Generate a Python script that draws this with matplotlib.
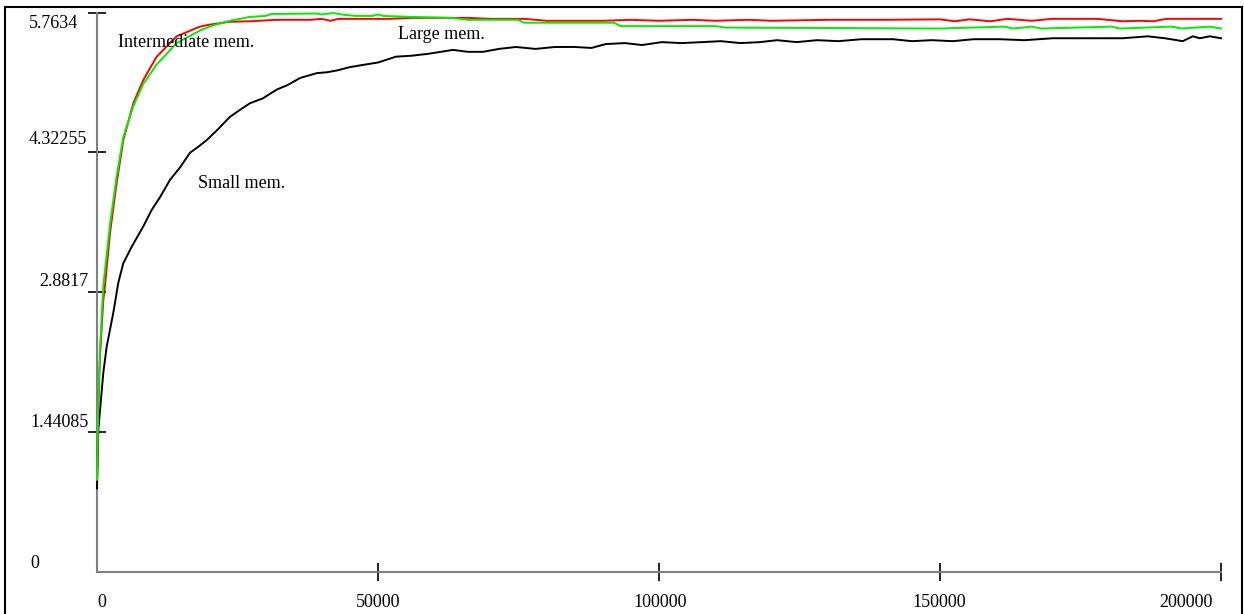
import matplotlib
matplotlib.use("Agg")
import matplotlib.pyplot as plt
from matplotlib.lines import Line2D

# values
small_x = [0, 230, 1120, 1720, 2900, 3790, 4680, 6170, 8240, 9730, 11200, 12990, 14800, 16550,
           18000, 19520, 21500, 23660, 25400, 27220, 29500, 31970, 34000, 36120, 39090, 41000,
           42870, 44800, 46790, 50000, 53190, 56000, 59000, 63330, 66000, 68700, 71500, 74570,
           78000, 81500, 85040, 88000, 90500, 93930, 97000, 100500, 104000, 107630, 111000,
           114500, 117950, 121000, 124500, 128090, 132000, 136000, 141610, 145000, 148500,
           152290, 156000, 160650, 165000, 170080, 174000, 178440, 182500, 186970, 190000,
           193200, 194980, 196230, 198010, 200000]
small_y = [0.86, 1.46, 2.05, 2.32, 2.67, 2.98, 3.18, 3.35, 3.56, 3.73, 3.86, 4.04, 4.17, 4.32,
           4.38, 4.45, 4.56, 4.69, 4.76, 4.83, 4.88, 4.97, 5.02, 5.09, 5.14, 5.15, 5.17, 5.20,
           5.22, 5.25, 5.31, 5.32, 5.34, 5.38, 5.36, 5.36, 5.39, 5.41, 5.39, 5.41, 5.41, 5.40,
           5.44, 5.45, 5.43, 5.46, 5.45, 5.46, 5.47, 5.45, 5.46, 5.48, 5.46, 5.48, 5.47, 5.49,
           5.49, 5.47, 5.48, 5.47, 5.49, 5.49, 5.48, 5.50, 5.50, 5.50, 5.50, 5.52, 5.50, 5.47,
           5.52, 5.50, 5.52, 5.50]

inter_x = [0, 230, 530, 1120, 1420, 2310, 3500, 4680, 6460, 8240, 10620, 14180, 18320, 20000,
           23660, 27220, 32000, 38000, 40000, 41500, 43000, 52000, 56000, 66000, 70000, 76000,
           80000, 90000, 95000, 100000, 106000, 110000, 116000, 120000, 130000, 140000, 150000,
           152600, 155300, 158900, 162000, 166300, 170000, 175000, 178000, 182500, 185500,
           187900, 190300, 193000, 200000]
inter_y = [0.95, 1.70, 2.22, 2.80, 2.95, 3.49, 4.01, 4.45, 4.83, 5.07, 5.31, 5.52, 5.62, 5.64,
           5.67, 5.675, 5.69, 5.69, 5.70, 5.68, 5.70, 5.70, 5.71, 5.71, 5.70, 5.70, 5.68, 5.68,
           5.69, 5.68, 5.69, 5.68, 5.69, 5.68, 5.69, 5.69, 5.695, 5.675, 5.695, 5.675, 5.70,
           5.68, 5.70, 5.70, 5.70, 5.675, 5.68, 5.675, 5.70, 5.70, 5.70]

large_x = [0, 230, 530, 1120, 2310, 3500, 4680, 6460, 8240, 10620, 14180, 18320, 20500, 23660,
           27220, 30000, 31000, 39000, 40000, 42000, 43500, 46000, 49000, 50000, 51000, 56000,
           63000, 66000, 74900, 76000, 92000, 93200, 110000, 112000, 131500, 150000, 161500,
           163000, 166300, 168000, 180600, 182000, 191200, 193000, 198000, 200000]
large_y = [0.95, 1.76, 2.30, 2.95, 3.58, 4.08, 4.48, 4.80, 5.03, 5.23, 5.45, 5.58, 5.63, 5.68,
           5.72, 5.73, 5.75, 5.755, 5.745, 5.76, 5.745, 5.73, 5.73, 5.745, 5.73, 5.72, 5.71,
           5.69, 5.69, 5.66, 5.66, 5.625, 5.625, 5.61, 5.605, 5.60, 5.62, 5.60, 5.62, 5.60,
           5.62, 5.60, 5.62, 5.60, 5.62, 5.60]

yticks = [1.44085, 2.8817, 4.32255, 5.7634]
ylabels = ["0", "1.44085", "2.8817", "4.32255", "5.7634"]
xticks = [50000, 100000, 150000, 200000]
xlabels = ["0", "50000", "100000", "150000", "200000"]

W, H = 1244, 614
plt.rcParams['font.family'] = ['Liberation Serif', 'DejaVu Serif']
fig = plt.figure(figsize=(W / 100, H / 100), dpi=100)

def fx(x):
    return x / W

def fy(y):
    return 1 - y / H

ax = fig.add_axes([fx(97), fy(571.7), (1221 - 97) / W, (571.7 - 12.7) / H])
ax.set_xlim(0, 200000)
ax.set_ylim(0, 5.7634)

ax.plot(small_x, small_y, color='black', lw=1.4, zorder=3, clip_on=False)
ax.plot(inter_x, inter_y, color='#ff0000', lw=1.4, zorder=3, clip_on=False)
ax.plot(large_x, large_y, color='#00ee00', lw=1.4, zorder=3, clip_on=False)

for s in ['top', 'right']:
    ax.spines[s].set_visible(False)
for s in ['left', 'bottom']:
    ax.spines[s].set_color('#808080')
    ax.spines[s].set_linewidth(1.5)
ax.set_xticks(xticks)
ax.set_yticks(yticks)
ax.tick_params(direction='inout', length=13, width=1.2, color='black',
               labelleft=False, labelbottom=False)

# tick labels placed as in the original
fs = 13
ylab_pos = [(30, 568, 'left'), (30, 427, 'left'), (88, 286, 'right'),
            (29, 144, 'left'), (29, 28, 'left')]
for lab, (x, y, ha) in zip(ylabels, ylab_pos):
    fig.text(fx(x), fy(y), lab, fontsize=fs, ha=ha, va='baseline')
xlab_pos = [(97, 'left'), (378, 'center'), (660, 'center'), (939, 'center'), (1213, 'right')]
for lab, (x, ha) in zip(xlabels, xlab_pos):
    fig.text(fx(x), fy(607), lab, fontsize=fs, ha=ha, va='baseline')

fig.text(fx(118), fy(47), "Intermediate mem.", fontsize=fs, va='baseline')
fig.text(fx(398), fy(39), "Large mem.", fontsize=fs, va='baseline')
fig.text(fx(198), fy(188), "Small mem.", fontsize=fs, va='baseline')

# page frame
for xs, ys in [([5, 1242], [7, 7]), ([5, 5], [7, 614]), ([1242, 1242], [7, 614])]:
    fig.add_artist(Line2D([fx(v) for v in xs], [fy(v) for v in ys],
                          transform=fig.transFigure, color='black', lw=1.5))

fig.savefig("out.png", dpi=100)
